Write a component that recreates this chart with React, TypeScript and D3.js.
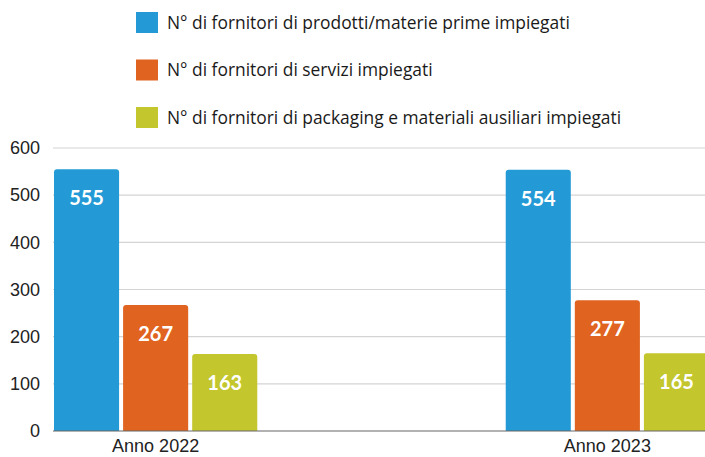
import React from "react";
import * as d3 from "d3";

const categories = ["Anno 2022", "Anno 2023"];
const seriesNames = [
  "N° di fornitori di prodotti/materie prime impiegati",
  "N° di fornitori di servizi impiegati",
  "N° di fornitori di packaging e materiali ausiliari impiegati",
];
const prodotti = [555, 554];
const servizi = [267, 277];
const packaging = [163, 165];
const yTicks = [0, 100, 200, 300, 400, 500, 600];
const colors = ["#239ad6", "#e06320", "#c3c62d"];

const W = 705;
const H = 457;

export default function App() {
  const series = [prodotti, servizi, packaging];
  const y = d3.scaleLinear().domain([0, 600]).range([431, 148]);
  const x0 = d3
    .scaleBand<string>()
    .domain(categories)
    .range([54, 709])
    .paddingInner(0.55)
    .paddingOuter(0);
  const x1 = d3
    .scaleBand<number>()
    .domain([0, 1, 2])
    .range([0, x0.bandwidth()])
    .paddingInner(0.058)
    .paddingOuter(0);
  const r = 3;
  const barPath = (x: number, w: number, top: number, bottom: number) => {
    const p = d3.path();
    p.moveTo(x, bottom);
    p.lineTo(x, top + r);
    p.quadraticCurveTo(x, top, x + r, top);
    p.lineTo(x + w - r, top);
    p.quadraticCurveTo(x + w, top, x + w, top + r);
    p.lineTo(x + w, bottom);
    p.closePath();
    return p.toString();
  };
  return (
    <svg
      width={W}
      height={H}
      style={{ position: "absolute", left: 0, top: 0, background: "#fff", overflow: "hidden" }}
    >
      {/* legend */}
      {seriesNames.map((name, i) => (
        <g key={name} transform={`translate(136, ${12 + i * 47.5})`}>
          <rect width={22} height={21} fill={colors[i]} />
          <text
            x={31}
            y={16.5}
            fontFamily="'Open Sans', sans-serif"
            fontSize={17.4}
            fill="#1a1a1a"
          >
            {name}
          </text>
        </g>
      ))}
      {/* grid */}
      {yTicks.map((t) => (
        <g key={t}>
          {t > 0 && (
            <line x1={53} x2={W} y1={y(t)} y2={y(t)} stroke="#d4d4d4" strokeWidth={1.2} />
          )}
          <text
            x={40}
            y={y(t)}
            dy="0.35em"
            textAnchor="end"
            fontFamily="'Liberation Sans', Arial, sans-serif"
            fontSize={18}
            fill="#222"
          >
            {t}
          </text>
        </g>
      ))}
      {/* bars */}
      {categories.map((c, ci) => (
        <g key={c}>
          {series.map((s, si) => {
            const bx = (x0(c) as number) + (x1(si) as number);
            const bw = x1.bandwidth();
            const top = y(s[ci]);
            return (
              <g key={si}>
                <path d={barPath(bx, bw, top, y(0))} fill={colors[si]} />
                <text
                  x={bx + bw / 2}
                  y={top + 36}
                  textAnchor="middle"
                  fontFamily="Lato, sans-serif"
                  fontWeight={700}
                  fontSize={20}
                  fill="#fff"
                >
                  {s[ci]}
                </text>
              </g>
            );
          })}
          <text
            x={(x0(c) as number) + x0.bandwidth() / 2}
            y={452}
            textAnchor="middle"
            fontFamily="'Liberation Sans', Arial, sans-serif"
            fontSize={18}
            fill="#222"
          >
            {c}
          </text>
        </g>
      ))}
      <line x1={53} x2={W} y1={y(0)} y2={y(0)} stroke="#666" strokeWidth={1.2} />
    </svg>
  );
}
